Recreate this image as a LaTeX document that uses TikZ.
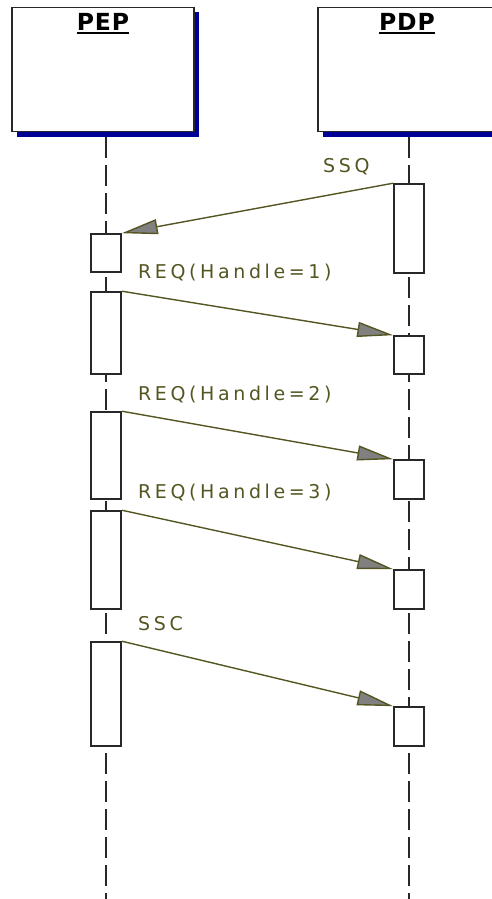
\documentclass[tikz,border=0pt]{standalone}
\usepackage{fontspec}
\setmainfont{DejaVu Sans}
\newfontfamily\headfont[LetterSpace=4]{DejaVu Sans}
\newfontfamily\msgfont[LetterSpace=19]{DejaVu Sans}
\usetikzlibrary{arrows.meta}
\definecolor{msgc}{RGB}{85,85,34}
\definecolor{shadowc}{RGB}{0,0,150}
\definecolor{edgec}{RGB}{40,40,40}
\definecolor{headc}{RGB}{128,128,128}
\begin{document}
\begin{tikzpicture}[x=1pt,y=-1pt,
  headbox/.style={draw=edgec,line width=1.5pt,fill=white,inner sep=0,minimum width=182pt,minimum height=124pt},
  shadowbox/.style={fill=shadowc,inner sep=0,minimum width=182pt,minimum height=124pt},
  headtext/.style={inner sep=0,anchor=base,font=\headfont\bfseries\fontsize{23.5}{23.5}\selectfont},
  ul/.style={line width=2pt,black},
  life/.style={draw=edgec,line width=2pt,dash pattern=on 21pt off 7pt},
  act/.style={draw=edgec,line width=1.6pt,fill=white,inner sep=0,minimum width=30pt},
  msg/.style={draw=msgc,line width=1.4pt,-{Triangle[length=36pt,width=15pt,fill=headc]}},
  msglabel/.style={inner sep=0,anchor=base west,text=msgc,font=\msgfont\fontsize{19}{19}\selectfont}
]
\useasboundingbox (0,0) rectangle (492,899);
% lifelines
\coordinate (pepTop) at (106,137);
\coordinate (pepEnd) at (106,899);
\coordinate (pdpTop) at (409,137);
\coordinate (pdpEnd) at (409,899);
\draw[life] (pepTop) -- (pepEnd);
\draw[life] (pdpTop) -- (pdpEnd);
% header boxes
\node[shadowbox] (pepS) at (108,74.5) {};
\node[headbox] (pep) at (103,69.5) {};
\node[shadowbox] (pdpS) at (414,74.5) {};
\node[headbox] (pdp) at (409,69.5) {};
\node[headtext] (pepL) at (103,30.5) {PEP};
\node[headtext] (pdpL) at (407,30.5) {PDP};
\draw[ul] ([yshift=-3pt]pepL.base west) -- ([yshift=-3pt]pepL.base east);
\draw[ul] ([yshift=-3pt]pdpL.base west) -- ([yshift=-3pt]pdpL.base east);
% activations PEP
\node[act,minimum height=38pt] (p1) at (106,253) {};
\node[act,minimum height=82pt] (p2) at (106,333) {};
\node[act,minimum height=87pt] (p3) at (106,455.5) {};
\node[act,minimum height=98pt] (p4) at (106,560) {};
\node[act,minimum height=104pt] (p5) at (106,694) {};
% activations PDP
\node[act,minimum height=89pt] (d1) at (409,228.5) {};
\node[act,minimum height=38pt] (d2) at (409,355) {};
\node[act,minimum height=39pt] (d3) at (409,479.5) {};
\node[act,minimum height=39pt] (d4) at (409,589.5) {};
\node[act,minimum height=39pt] (d5) at (409,726.5) {};
% messages
\draw[msg] (d1.north west) -- (p1.north east);
\draw[msg] (p2.north east) -- (d2.north west);
\draw[msg] (p3.north east) -- (d3.north west);
\draw[msg] (p4.north east) -- (d4.north west);
\draw[msg] (p5.north east) -- (d5.north west);
% labels
\node[msglabel] (l1) at (323,172) {SSQ};
\node[msglabel] (l2) at (138,278) {REQ(Handle=1)};
\node[msglabel] (l3) at (138,400) {REQ(Handle=2)};
\node[msglabel] (l4) at (138,498) {REQ(Handle=3)};
\node[msglabel] (l5) at (138,630) {SSC};
\end{tikzpicture}
\end{document}
